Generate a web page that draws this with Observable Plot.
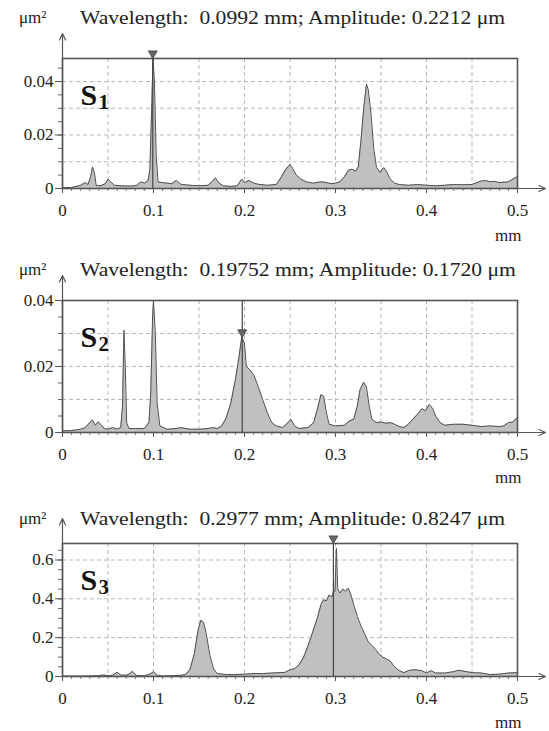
<!DOCTYPE html>
<html><head><meta charset="utf-8">
<script src="https://cdn.jsdelivr.net/npm/d3@7"></script>
<script src="https://cdn.jsdelivr.net/npm/@observablehq/plot@0.6"></script>
<style>
body{margin:0;background:#fff;}
#root{position:relative;width:549px;height:731px;overflow:hidden;font-family:"Liberation Serif","Times New Roman",Times,serif;color:#222;}
.unit{position:absolute;left:19px;font-size:17px;line-height:20px;white-space:nowrap;}
.ttl{position:absolute;left:80px;font-size:18px;line-height:20px;transform:scaleX(1.2);transform-origin:left center;white-space:nowrap;}
#root svg{position:absolute;left:0;}
</style></head><body><div id="root"></div><script>
// ---- data ----
const xTickLabels = [0, 0.1, 0.2, 0.3, 0.4, 0.5];
const xGrid = [0.05, 0.1, 0.15, 0.2, 0.25, 0.3, 0.35, 0.4, 0.45];

const s1X = [0,0.01,0.015,0.02,0.025,0.028,0.031,0.033,0.035,0.037,0.042,0.047,0.05,0.053,0.057,0.065,0.075,0.082,0.086,0.09,0.094,0.096,0.098,0.0995,0.101,0.103,0.105,0.11,0.115,0.12,0.125,0.13,0.14,0.15,0.16,0.165,0.168,0.172,0.177,0.185,0.192,0.197,0.2,0.205,0.21,0.215,0.225,0.235,0.24,0.245,0.25,0.253,0.257,0.262,0.268,0.275,0.28,0.285,0.29,0.295,0.3,0.305,0.31,0.314,0.318,0.322,0.325,0.328,0.331,0.334,0.336,0.339,0.342,0.345,0.349,0.353,0.356,0.36,0.365,0.37,0.38,0.39,0.4,0.41,0.42,0.43,0.44,0.45,0.46,0.465,0.47,0.475,0.48,0.49,0.495,0.5];
const s1Y = [0.0003,0.0004,0.0008,0.0012,0.0022,0.0015,0.0045,0.008,0.006,0.0012,0.001,0.0018,0.0035,0.0025,0.0012,0.001,0.0009,0.0012,0.0025,0.002,0.003,0.007,0.03,0.0486,0.04,0.012,0.0025,0.0022,0.002,0.0018,0.003,0.0016,0.0012,0.001,0.0012,0.0028,0.004,0.002,0.001,0.0008,0.001,0.0035,0.0022,0.003,0.002,0.0016,0.0012,0.0015,0.004,0.007,0.009,0.0075,0.005,0.0035,0.0025,0.002,0.0023,0.0025,0.0022,0.0018,0.002,0.0025,0.0045,0.0068,0.0072,0.0065,0.008,0.018,0.03,0.039,0.037,0.028,0.015,0.008,0.006,0.0078,0.0065,0.0035,0.002,0.0015,0.0012,0.0015,0.0012,0.001,0.0012,0.0015,0.0014,0.0015,0.0028,0.003,0.0025,0.0027,0.0022,0.0025,0.0035,0.0045];

const s2X = [0,0.01,0.02,0.025,0.03,0.033,0.036,0.039,0.042,0.046,0.05,0.055,0.06,0.064,0.066,0.0675,0.069,0.0705,0.073,0.08,0.09,0.095,0.097,0.099,0.1,0.102,0.104,0.107,0.115,0.125,0.13,0.14,0.15,0.16,0.165,0.17,0.175,0.18,0.185,0.19,0.194,0.197,0.2,0.202,0.206,0.21,0.215,0.22,0.225,0.23,0.235,0.242,0.248,0.251,0.255,0.26,0.27,0.276,0.28,0.284,0.287,0.29,0.293,0.3,0.31,0.315,0.32,0.324,0.327,0.331,0.334,0.337,0.34,0.345,0.35,0.355,0.36,0.365,0.37,0.375,0.38,0.385,0.39,0.395,0.399,0.403,0.407,0.41,0.415,0.42,0.43,0.44,0.45,0.46,0.47,0.48,0.485,0.49,0.495,0.5];
const s2Y = [0.0005,0.0006,0.001,0.0015,0.003,0.0038,0.0022,0.0032,0.0025,0.0012,0.001,0.0015,0.001,0.0015,0.008,0.031,0.02,0.003,0.0012,0.0012,0.0012,0.003,0.012,0.035,0.04,0.03,0.009,0.002,0.001,0.0012,0.0015,0.001,0.001,0.0012,0.0015,0.0012,0.002,0.0045,0.009,0.016,0.023,0.029,0.027,0.02,0.019,0.0175,0.014,0.01,0.006,0.003,0.002,0.0015,0.003,0.004,0.002,0.0012,0.0015,0.003,0.007,0.0115,0.011,0.006,0.0025,0.002,0.0022,0.0035,0.004,0.008,0.013,0.0152,0.0138,0.008,0.004,0.003,0.0032,0.0028,0.003,0.0025,0.0018,0.0015,0.0025,0.004,0.0055,0.0072,0.0066,0.0085,0.0072,0.005,0.003,0.0022,0.0025,0.0025,0.0022,0.0018,0.002,0.0018,0.002,0.003,0.0032,0.0046];

const s3X = [0,0.02,0.04,0.045,0.05,0.055,0.06,0.064,0.07,0.074,0.077,0.081,0.09,0.096,0.1,0.104,0.11,0.12,0.13,0.135,0.14,0.145,0.149,0.152,0.155,0.158,0.162,0.166,0.17,0.18,0.19,0.2,0.21,0.22,0.23,0.24,0.245,0.25,0.255,0.26,0.265,0.27,0.275,0.28,0.284,0.287,0.29,0.293,0.296,0.298,0.2995,0.301,0.3025,0.305,0.308,0.311,0.314,0.317,0.32,0.324,0.328,0.332,0.336,0.34,0.344,0.348,0.352,0.356,0.36,0.365,0.37,0.375,0.38,0.385,0.39,0.395,0.4,0.405,0.41,0.42,0.43,0.435,0.44,0.45,0.46,0.47,0.48,0.49,0.5];
const s3Y = [0.002,0.002,0.004,0.008,0.004,0.006,0.022,0.008,0.006,0.015,0.027,0.006,0.003,0.012,0.025,0.006,0.003,0.004,0.006,0.01,0.035,0.12,0.24,0.29,0.28,0.22,0.11,0.04,0.015,0.01,0.01,0.012,0.015,0.015,0.018,0.02,0.022,0.035,0.04,0.06,0.1,0.16,0.23,0.3,0.37,0.395,0.39,0.42,0.41,0.44,0.44,0.66,0.45,0.43,0.45,0.44,0.455,0.42,0.37,0.31,0.26,0.22,0.18,0.16,0.14,0.115,0.1,0.09,0.08,0.05,0.03,0.02,0.03,0.035,0.033,0.03,0.018,0.03,0.018,0.018,0.025,0.032,0.028,0.02,0.018,0.01,0.012,0.018,0.02];

const seriesX = [s1X, s2X, s3X];
const seriesY = [s1Y, s2Y, s3Y];
const subscripts = ["1", "2", "3"];
const titles = [
  "Wavelength:\u00a0 0.0992 mm; Amplitude: 0.2212 μm",
  "Wavelength:\u00a0 0.19752 mm; Amplitude: 0.1720 μm",
  "Wavelength:\u00a0 0.2977 mm; Amplitude: 0.8247 μm"
];
const unitLabel = "μm²";
const xUnit = "mm";
const markerX = [0.0992, 0.19752, 0.2977];
const markerTipY = [0.0486, 0.0288, 0.685];
const yTop = [0.0486, 0.04, 0.685];
const yTickLabels = [[0, 0.02, 0.04], [0, 0.02, 0.04], [0, 0.2, 0.4, 0.6]];
const yGrid = [[0.01, 0.02, 0.03, 0.04], [0.01, 0.02, 0.03], [0.2, 0.4, 0.6]];
const yMinorStep = [0.005, 0.005, 0.05];

// ---- layout ----
const layout = [
  {svgTop: 28, titleTop: 8, mt: 30, ph: 130, mb: 57, unitDy: 40},
  {svgTop: 270, titleTop: 260, mt: 30, ph: 132, mb: 50, unitDy: 38},
  {svgTop: 513, titleTop: 509, mt: 30, ph: 133, mb: 55, unitDy: 39}
];
const W = 549, ML = 62, MR = 32;
const xPx = (W - ML - MR) / 0.5;
const xArrowEnd = 0.5 + 28 / xPx;
const fmt = d => d === 0 ? "0" : String(d);
const FONT = "'Liberation Serif', 'Times New Roman', Times, serif";

const tri = {
  draw(ctx, size) {
    const r = Math.sqrt(size / Math.PI);
    ctx.moveTo(-r, -r * 0.8);
    ctx.lineTo(r, -r * 0.8);
    ctx.lineTo(0, r * 0.9);
    ctx.closePath();
  }
};

const root = document.getElementById("root");
for (let i = 0; i < 3; i++) {
  const L = layout[i];
  const top = yTop[i];
  const data = seriesX[i].map((x, j) => ({x, y: seriesY[i][j]}));
  const minor = d3.range(0, top + 1e-9, yMinorStep[i]).map(v => +v.toFixed(4));
  const xMinor = d3.range(0, 51).map(v => +(v / 100).toFixed(2));
  const yArrowEnd = top + 25 * top / L.ph;
  const svg = Plot.plot({
    width: W,
    height: L.mt + L.ph + L.mb,
    marginLeft: ML, marginRight: MR, marginTop: L.mt, marginBottom: L.mb,
    style: {fontFamily: FONT, fontSize: "17px", background: "transparent", color: "#222", overflow: "visible"},
    x: {domain: [0, 0.5], label: null},
    y: {domain: [0, top], label: null},
    marks: [
      Plot.gridX(xGrid, {stroke: "#b8b8b8", strokeOpacity: 1, strokeDasharray: "4,3"}),
      Plot.gridY(yGrid[i], {stroke: "#b8b8b8", strokeOpacity: 1, strokeDasharray: "4,3"}),
      Plot.areaY(data, {x: "x", y: "y", fill: "#c0c0c0"}),
      Plot.lineY(data, {x: "x", y: "y", stroke: "#505050", strokeWidth: 1}),
      Plot.frame({stroke: "#555", strokeWidth: 1.6}),
      Plot.ruleX([markerX[i]], {y1: 0, y2: top, stroke: "#444", strokeWidth: 1.2}),
      Plot.dot([markerX[i]], {x: d => d, y: markerTipY[i], symbol: tri, r: 4.5, fill: "#666", stroke: "#444", strokeWidth: 0.8, dy: -4}),
      Plot.axisY(minor, {tickSize: 4, text: null, stroke: "#666"}),
      Plot.axisY(yTickLabels[i], {tickSize: 7, tickPadding: 2, tickFormat: fmt, stroke: "#555", fill: "#222"}),
      Plot.axisX(xMinor, {tickSize: 3, text: null, stroke: "#777"}),
      Plot.axisX(xTickLabels, {tickSize: 5, tickPadding: 10, tickFormat: fmt, stroke: "#555", fill: "#222"}),
      Plot.arrow([0], {x1: 0, y1: 0, x2: xArrowEnd, y2: 0, stroke: "#555", strokeWidth: 1.2, headLength: 9, headAngle: 50}),
      Plot.arrow([0], {x1: 0, y1: 0, x2: 0, y2: yArrowEnd, stroke: "#555", strokeWidth: 1.2, headLength: 9, headAngle: 50}),
      Plot.text(["S"], {frameAnchor: "top-left", dx: 18, dy: 25, textAnchor: "start", lineAnchor: "top", fontSize: 30, fontWeight: "bold", fill: "#111"}),
      Plot.text([subscripts[i]], {frameAnchor: "top-left", dx: 36, dy: 36, textAnchor: "start", lineAnchor: "top", fontSize: 21, fontWeight: "bold", fill: "#111"}),
      Plot.text([xUnit], {frameAnchor: "bottom-right", dx: 4, dy: L.unitDy, textAnchor: "end", lineAnchor: "top", fill: "#222"})
    ]
  });
  svg.style.top = L.svgTop + "px";
  root.appendChild(svg);
  const u = document.createElement("div");
  u.className = "unit"; u.style.top = L.titleTop + "px"; u.textContent = unitLabel;
  root.appendChild(u);
  const t = document.createElement("div");
  t.className = "ttl"; t.style.top = L.titleTop + "px"; t.textContent = titles[i];
  root.appendChild(t);
}
</script></body></html>
